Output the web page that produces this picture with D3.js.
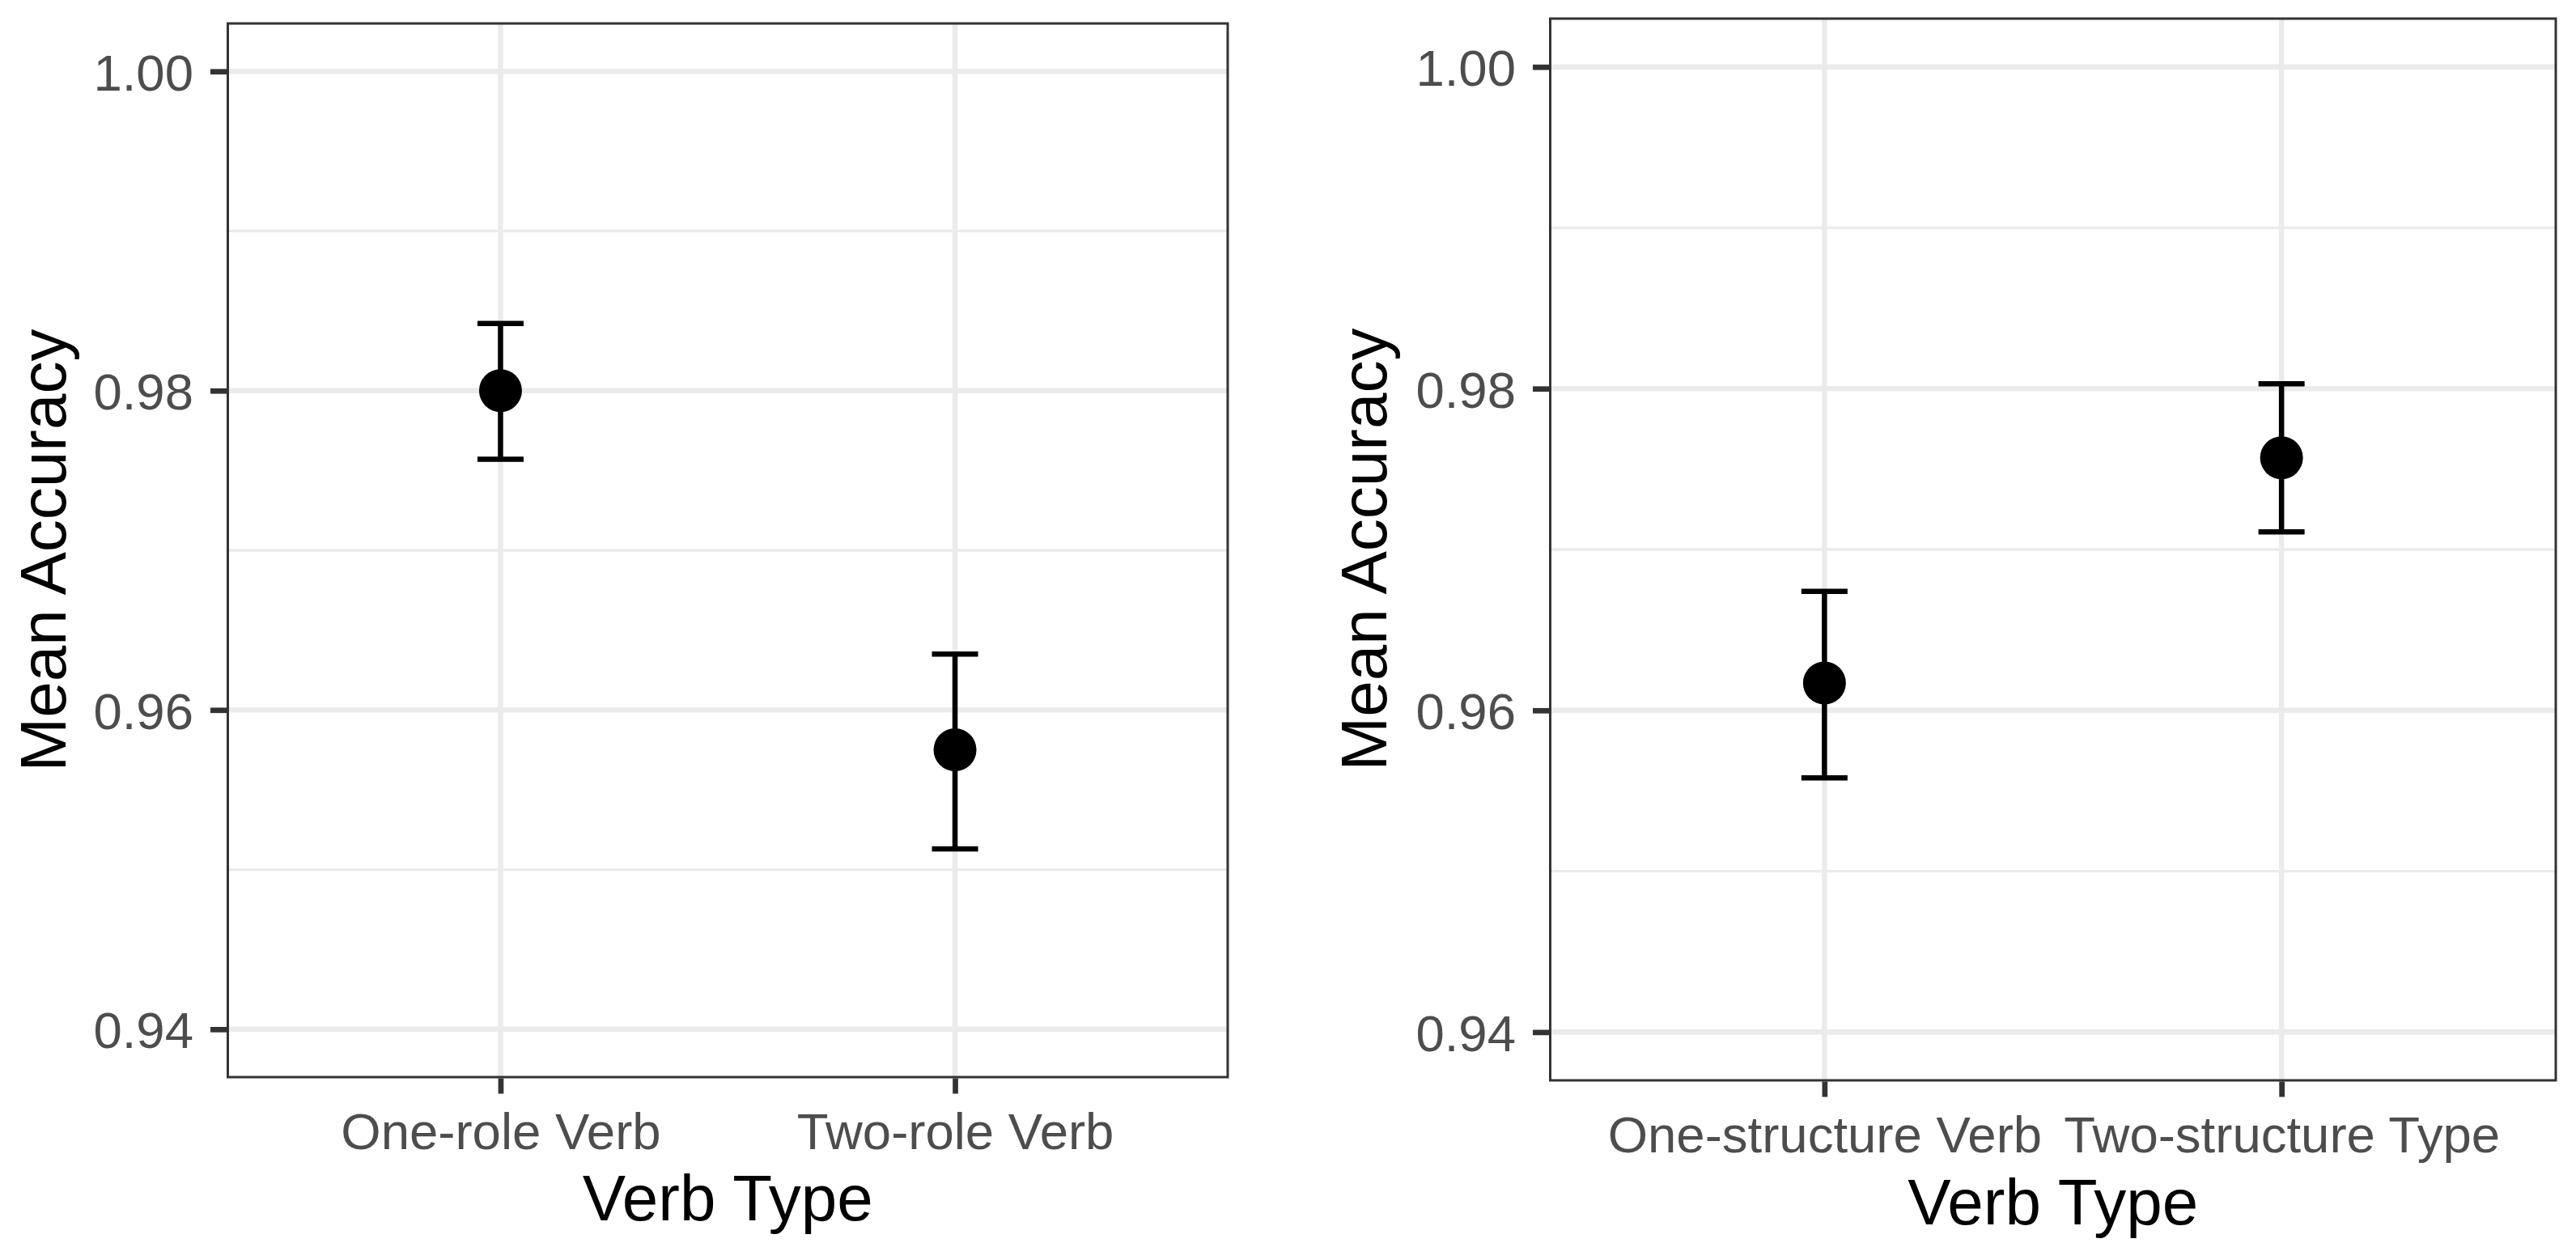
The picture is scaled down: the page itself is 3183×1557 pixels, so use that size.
<!DOCTYPE html>
<html>
<head>
<meta charset="utf-8">
<script src="https://cdn.jsdelivr.net/npm/d3@7"></script>
<style>
  html, body { margin: 0; padding: 0; background: #ffffff; }
  svg { display: block; }
  text { font-family: "Liberation Sans", Arial, Helvetica, sans-serif; }
</style>
</head>
<body>
<script>
// ---------------- data ----------------
const leftCategories = ["One-role Verb", "Two-role Verb"];
const leftMean  = [0.9800, 0.9575];
const leftLower = [0.9757, 0.9513];
const leftUpper = [0.9842, 0.9635];

const rightCategories = ["One-structure Verb", "Two-structure Type"];
const rightMean  = [0.9617, 0.9757];
const rightLower = [0.9558, 0.9711];
const rightUpper = [0.9674, 0.9803];

const yTicks = [0.94, 0.96, 0.98, 1.00];
const yMinorTicks = [0.95, 0.97, 0.99];
const xTitle = "Verb Type";
const yTitle = "Mean Accuracy";

// ---------------- layout ----------------
const W = 3183, H = 1557;
const svg = d3.select("body").append("svg")
  .attr("width", W).attr("height", H)
  .attr("viewBox", `0 0 ${W} ${H}`);

svg.append("rect").attr("width", W).attr("height", H).attr("fill", "#ffffff");

const panels = [
  { cats: leftCategories, mean: leftMean, lo: leftLower, hi: leftUpper,
    x0: 281.5, x1: 1517, y0: 29, y1: 1331,
    xLabelPad: 23, yTitleX: 81, xTitleY: 1508 },
  { cats: rightCategories, mean: rightMean, lo: rightLower, hi: rightUpper,
    x0: 1915.5, x1: 3158, y0: 23, y1: 1335,
    xLabelPad: 23, yTitleX: 1713, xTitleY: 1513 }
];

const GRID = "#EBEBEB", DARK = "#333333", TEXT = "#4D4D4D";
const tickLen = 20;
const tickFont = 63.5, titleFont = 80;

const yExt = d3.extent(yTicks);
const yPad = (yExt[1] - yExt[0]) * 0.05;

panels.forEach(p => {
  const g = svg.append("g");

  const x = d3.scalePoint().domain(p.cats).range([p.x0, p.x1]).padding(0.6);
  const y = d3.scaleLinear().domain([yExt[0] - yPad, yExt[1] + yPad]).range([p.y1, p.y0]);

  // minor gridlines
  g.append("g").selectAll("line").data(yMinorTicks).join("line")
    .attr("x1", p.x0).attr("x2", p.x1)
    .attr("y1", d => y(d)).attr("y2", d => y(d))
    .attr("stroke", GRID).attr("stroke-width", 3.3);

  // major gridlines
  g.append("g").selectAll("line").data(yTicks).join("line")
    .attr("x1", p.x0).attr("x2", p.x1)
    .attr("y1", d => y(d)).attr("y2", d => y(d))
    .attr("stroke", GRID).attr("stroke-width", 6.5);
  g.append("g").selectAll("line").data(p.cats).join("line")
    .attr("x1", d => x(d)).attr("x2", d => x(d))
    .attr("y1", p.y0).attr("y2", p.y1)
    .attr("stroke", GRID).attr("stroke-width", 6.5);

  // error bars
  const rows = p.cats.map((c, i) => ({ c, m: p.mean[i], lo: p.lo[i], hi: p.hi[i] }));
  const capHalf = 28.5;
  const eb = g.append("g").attr("stroke", "#000000").attr("stroke-width", 6.5);
  eb.selectAll("line.v").data(rows).join("line").attr("class", "v")
    .attr("x1", d => x(d.c)).attr("x2", d => x(d.c))
    .attr("y1", d => y(d.lo)).attr("y2", d => y(d.hi));
  eb.selectAll("line.t").data(rows).join("line").attr("class", "t")
    .attr("x1", d => x(d.c) - capHalf).attr("x2", d => x(d.c) + capHalf)
    .attr("y1", d => y(d.hi)).attr("y2", d => y(d.hi));
  eb.selectAll("line.b").data(rows).join("line").attr("class", "b")
    .attr("x1", d => x(d.c) - capHalf).attr("x2", d => x(d.c) + capHalf)
    .attr("y1", d => y(d.lo)).attr("y2", d => y(d.lo));

  // points
  g.append("g").selectAll("circle").data(rows).join("circle")
    .attr("cx", d => x(d.c)).attr("cy", d => y(d.m))
    .attr("r", 26.5).attr("fill", "#000000");

  // panel border
  g.append("rect")
    .attr("x", p.x0).attr("y", p.y0)
    .attr("width", p.x1 - p.x0).attr("height", p.y1 - p.y0)
    .attr("fill", "none").attr("stroke", DARK).attr("stroke-width", 3);

  // y axis
  const yAxis = g.append("g").attr("transform", `translate(${p.x0 - 1.5},0)`)
    .call(d3.axisLeft(y).tickValues(yTicks).tickFormat(d3.format(".2f"))
      .tickSize(tickLen).tickPadding(21));
  yAxis.select(".domain").remove();
  yAxis.selectAll(".tick line").attr("stroke", DARK).attr("stroke-width", 6.7);
  yAxis.selectAll(".tick text").attr("fill", TEXT)
    .style("font-size", tickFont + "px").attr("dy", "0.36em");

  // x axis
  const xAxis = g.append("g").attr("transform", `translate(0,${p.y1 + 1.5})`)
    .call(d3.axisBottom(x).tickSize(tickLen - 1).tickPadding(p.xLabelPad));
  xAxis.select(".domain").remove();
  xAxis.selectAll(".tick line").attr("stroke", DARK).attr("stroke-width", 6.7);
  xAxis.selectAll(".tick text").attr("fill", TEXT)
    .style("font-size", tickFont + "px");

  // titles
  g.append("text")
    .attr("x", (p.x0 + p.x1) / 2).attr("y", p.xTitleY)
    .attr("text-anchor", "middle").attr("fill", "#000000")
    .style("font-size", titleFont + "px").text(xTitle);
  g.append("text")
    .attr("transform", `translate(${p.yTitleX},${(p.y0 + p.y1) / 2}) rotate(-90)`)
    .attr("text-anchor", "middle").attr("fill", "#000000")
    .style("font-size", titleFont + "px").text(yTitle);
});
</script>
</body>
</html>
